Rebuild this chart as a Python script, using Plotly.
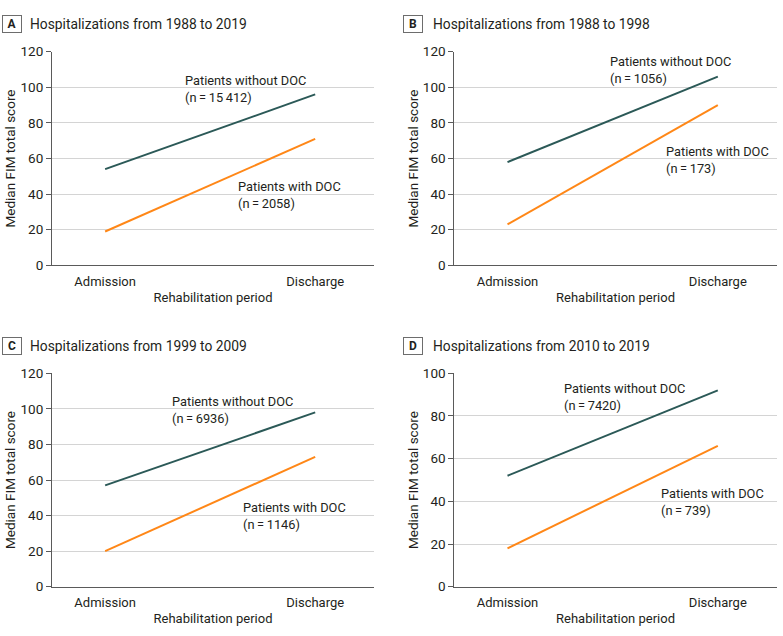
import plotly.graph_objects as go

W, H = 783, 636

periods = ["Admission", "Discharge"]

panel_letters = ["A", "B", "C", "D"]
panel_titles = [
    "Hospitalizations from 1988 to 2019",
    "Hospitalizations from 1988 to 1998",
    "Hospitalizations from 1999 to 2009",
    "Hospitalizations from 2010 to 2019",
]
without_doc_A = [54, 96]
with_doc_A = [19, 71]
without_doc_B = [58, 106]
with_doc_B = [23, 90]
without_doc_C = [57, 98]
with_doc_C = [20, 73]
without_doc_D = [52, 92]
with_doc_D = [18, 66]

n_without = ["15\u2009412", "1056", "6936", "7420"]
n_with = ["2058", "173", "1146", "739"]

y_max = [120, 120, 120, 100]

without_series = [without_doc_A, without_doc_B, without_doc_C, without_doc_D]
with_series = [with_doc_A, with_doc_B, with_doc_C, with_doc_D]

# label positions in data coords (x, y-center)
lab_without_pos = [(0.371, 99.1), (0.478, 109.7), (0.309, 99.6), (0.261, 88.9)]
lab_with_pos = [(0.624, 39.3), (0.746, 59.2), (0.649, 39.7), (0.722, 39.7)]

GREEN = "#2b5957"
ORANGE = "#ff8717"
TXT = "#231f20"
FONT = "Roboto, Liberation Sans, Arial, sans-serif"

XR = [-0.253, 1.28]

# pixel geometry of panels: (left, right, top, bottom)
geo = [
    (52, 374, 51.7, 265.3),
    (454.3, 776.7, 51.7, 265.3),
    (52, 374, 373.3, 586.7),
    (454.3, 776.7, 373.3, 586.7),
]
badge = [(12, 24.5), (412.5, 24), (11.5, 345.7), (412.5, 346)]
title_pos = [(28, 24.5), (430.7, 24.5), (28, 345.5), (430.7, 345.5)]

fig = go.Figure()
layout = dict(
    width=W, height=H,
    margin=dict(l=0, r=0, t=0, b=0),
    paper_bgcolor="white", plot_bgcolor="white",
    showlegend=False,
    font=dict(family=FONT, size=13, color=TXT),
)
annotations = []

for i in range(4):
    ax = "" if i == 0 else str(i + 1)
    xa = "x" + ax
    ya = "y" + ax
    l, r, t, b = geo[i]
    layout["xaxis" + ax] = dict(
        domain=[l / W, r / W], anchor=ya, range=XR, type="category",
        showline=True, linecolor="#5a5a5a", linewidth=1,
        showgrid=False, zeroline=False, automargin=False,
        ticks="outside", ticklen=4, tickcolor="rgba(0,0,0,0)",
        tickfont=dict(size=13, color=TXT),
        title=dict(text="Rehabilitation period", font=dict(size=13, color=TXT), standoff=4),
        fixedrange=True,
    )
    layout["yaxis" + ax] = dict(
        domain=[1 - b / H, 1 - t / H], anchor=xa, range=[0, y_max[i]],
        dtick=20, showline=True, linecolor="#5a5a5a", linewidth=1,
        showgrid=True, gridcolor="#d4d4d4", gridwidth=1, zeroline=False,
        automargin=False,
        ticks="outside", ticklen=5, tickcolor="#5a5a5a",
        tickfont=dict(size=13.5, color=TXT),
        title=dict(text="Median FIM total score", font=dict(size=13.5, color=TXT), standoff=1),
        fixedrange=True,
    )
    fig.add_trace(go.Scatter(x=periods, y=without_series[i], mode="lines",
                             line=dict(color=GREEN, width=2), xaxis=xa, yaxis=ya,
                             hoverinfo="skip"))
    fig.add_trace(go.Scatter(x=periods, y=with_series[i], mode="lines",
                             line=dict(color=ORANGE, width=2), xaxis=xa, yaxis=ya,
                             hoverinfo="skip"))
    lx, ly = lab_without_pos[i]
    annotations.append(dict(
        x=lx, y=ly, xref=xa, yref=ya, xanchor="left", yanchor="middle",
        text="Patients without DOC<br>(n\u2009=\u2009" + n_without[i] + ")",
        showarrow=False, align="left", font=dict(size=12.8, color=TXT)))
    lx, ly = lab_with_pos[i]
    annotations.append(dict(
        x=lx, y=ly, xref=xa, yref=ya, xanchor="left", yanchor="middle",
        text="Patients with DOC<br>(n\u2009=\u2009" + n_with[i] + ")",
        showarrow=False, align="left", font=dict(size=12.8, color=TXT)))
    bx, by = badge[i]
    annotations.append(dict(
        x=bx / W, y=1 - by / H, xref="paper", yref="paper",
        xanchor="center", yanchor="middle",
        text="<b>" + panel_letters[i] + "</b>", showarrow=False,
        bordercolor="#6d6d6d", borderwidth=1, borderpad=1,
        width=16, height=14, font=dict(size=12, color=TXT)))
    tx, ty = title_pos[i]
    annotations.append(dict(
        x=tx / W, y=1 - ty / H, xref="paper", yref="paper",
        xanchor="left", yanchor="middle", text=panel_titles[i],
        showarrow=False, font=dict(size=13.8, color=TXT)))

layout["annotations"] = annotations
fig.update_layout(**layout)
fig.write_html("out.html", config={"displayModeBar": False},
               post_script="document.body.style.margin='0';")
